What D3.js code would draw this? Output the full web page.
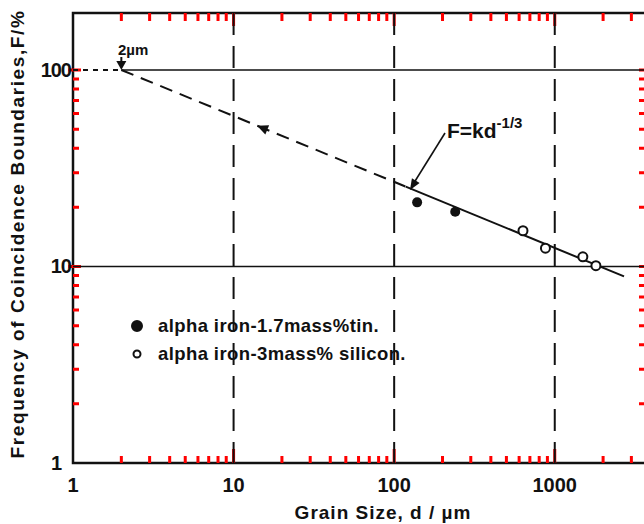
<!DOCTYPE html>
<html>
<head>
<meta charset="utf-8">
<script src="https://cdn.jsdelivr.net/npm/d3@7"></script>
<style>
  body { margin: 0; background: #fff; }
  svg { display: block; }
  text { font-family: "Liberation Sans", Arial, sans-serif; font-weight: bold; fill: #111; }
</style>
</head>
<body>
<svg></svg>
<script>
const WIDTH = 644;
const HEIGHT = 524;

// data
const tinD = [139, 240];
const tinF = [21.2, 19.0];
const siliconD = [634, 875, 1496, 1804];
const siliconF = [15.2, 12.4, 11.2, 10.1];

const fitDashedD = [2, 118];
const fitDashedF = [100, 25.5];
const fitSolidD = [118, 2700];
const fitSolidF = [25.5, 8.9];

const xTickLabels = [1, 10, 100, 1000];
const yTickLabels = [1, 10, 100];
const gridD = [10, 100, 1000];
const gridF = [10, 100];

const legendLabels = ["alpha iron-1.7mass%tin.", "alpha iron-3mass% silicon."];

const x = d3.scaleLog().domain([1, 3700]).range([73, 646]);
const y = d3.scaleLog().domain([1, 195]).range([463, 13]);

const $svg = d3.select("svg").attr("width", WIDTH).attr("height", HEIGHT);

const xTicks = x.ticks().filter(d => d > 1);
const yTicks = y.ticks().filter(d => d > 1);
const isMajor = d => Math.abs(Math.log10(d) - Math.round(Math.log10(d))) < 1e-9;

const plotTop = y.range()[1];
const plotBottom = y(1);
const plotLeft = x(1);
const plotRight = x.range()[1];

// frame
$svg.append("rect")
  .attr("x", plotLeft).attr("y", plotTop)
  .attr("width", plotRight - plotLeft)
  .attr("height", plotBottom - plotTop)
  .attr("fill", "none").attr("stroke", "#111").attr("stroke-width", 2.5);

// axis ticks as one path per side
function tickPath(data, seg) {
  return data.map(d => {
    const s = seg(d);
    return `M${s[0]},${s[1]}L${s[2]},${s[3]}`;
  }).join("");
}

const tickPaths = [
  tickPath(xTicks, d => [x(d), plotBottom, x(d), plotBottom - (isMajor(d) ? 14 : 7)]),
  tickPath(xTicks, d => [x(d), plotTop, x(d), plotTop + (isMajor(d) ? 13 : 8)]),
  tickPath(yTicks, d => [plotLeft - (isMajor(d) ? 5 : 0), y(d), plotLeft + (isMajor(d) ? 8 : 6), y(d)]),
  tickPath(yTicks, d => [plotRight - 2, y(d), plotRight - 7, y(d)])
];

$svg.append("g")
  .selectAll("path")
  .data(tickPaths)
  .enter()
  .append("path")
  .attr("d", d => d)
  .style("fill", "none")
  .style("stroke", "red")
  .style("stroke-width", "3px");

// horizontal grid
$svg.selectAll(".hgrid")
  .data(gridF)
  .enter()
  .append("line")
  .attr("x1", d => d === 100 ? x(2) : plotLeft)
  .attr("x2", plotRight)
  .attr("y1", d => y(d)).attr("y2", d => y(d))
  .attr("stroke", "#111").attr("stroke-width", 1.6);

$svg.append("line")
  .attr("x1", plotLeft).attr("x2", x(2))
  .attr("y1", y(100)).attr("y2", y(100))
  .attr("stroke", "#111").attr("stroke-width", 2)
  .attr("stroke-dasharray", "5,5");

// vertical dashed grid
$svg.selectAll(".vgrid")
  .data(gridD)
  .enter()
  .append("line")
  .attr("x1", d => x(d)).attr("x2", d => x(d))
  .attr("y1", plotTop).attr("y2", plotBottom)
  .attr("stroke", "#111").attr("stroke-width", 2)
  .attr("stroke-dasharray", "22,11");

// fit line
const lineGen = d3.line().x(d => x(d[0])).y(d => y(d[1]));

$svg.append("path")
  .attr("d", lineGen(d3.zip(fitDashedD, fitDashedF)))
  .attr("fill", "none").attr("stroke", "#111").attr("stroke-width", 2)
  .attr("stroke-dasharray", "13,8");

$svg.append("path")
  .attr("d", lineGen(d3.zip(fitSolidD, fitSolidF)))
  .attr("fill", "none").attr("stroke", "#111").attr("stroke-width", 2);

// small arrow on the dashed part
const aD = 14;
const slope = Math.log(fitDashedF[1] / fitDashedF[0]) / Math.log(fitDashedD[1] / fitDashedD[0]);
const aF = fitDashedF[0] * Math.pow(aD / fitDashedD[0], slope);
const ang = Math.atan2(y(fitDashedF[0]) - y(fitDashedF[1]), x(fitDashedD[0]) - x(fitDashedD[1]));
$svg.append("path")
  .attr("d", "M0,0 L-11,-5 L-11,5 Z")
  .attr("transform", `translate(${x(aD)},${y(aF)}) rotate(${ang * 180 / Math.PI})`)
  .attr("fill", "#111");

// points
$svg.selectAll(".tin")
  .data(d3.zip(tinD, tinF))
  .enter()
  .append("circle")
  .attr("cx", d => x(d[0])).attr("cy", d => y(d[1]))
  .attr("r", 5).attr("fill", "#111");

$svg.selectAll(".si")
  .data(d3.zip(siliconD, siliconF))
  .enter()
  .append("circle")
  .attr("cx", d => x(d[0])).attr("cy", d => y(d[1]))
  .attr("r", 4.5).attr("fill", "#fff").attr("stroke", "#111").attr("stroke-width", 2);

// tick labels
$svg.selectAll(".xlab")
  .data(xTickLabels)
  .enter()
  .append("text")
  .attr("x", d => x(d)).attr("y", 492)
  .attr("text-anchor", "middle")
  .attr("font-size", 20)
  .text(d => d);

$svg.selectAll(".ylab")
  .data(yTickLabels)
  .enter()
  .append("text")
  .attr("x", d => d === 1 ? 61 : 71).attr("y", d => y(d) + 7)
  .attr("text-anchor", "end")
  .attr("font-size", 20)
  .attr("letter-spacing", -1)
  .text(d => d);

// axis titles
$svg.append("text")
  .attr("x", 383).attr("y", 519)
  .attr("text-anchor", "middle")
  .attr("font-size", 19)
  .attr("letter-spacing", 1)
  .text("Grain Size, d / \u00b5m");

$svg.append("text")
  .attr("transform", "translate(24,234) rotate(-90)")
  .attr("text-anchor", "middle")
  .attr("font-size", 19)
  .attr("letter-spacing", 1.6)
  .text("Frequency of Coincidence Boundaries,F/%");

// 2um annotation
$svg.append("text")
  .attr("x", 118).attr("y", 55)
  .attr("font-size", 15)
  .text("2\u00b5m");
$svg.append("line")
  .attr("x1", x(2)).attr("x2", x(2))
  .attr("y1", 57).attr("y2", y(100) - 6)
  .attr("stroke", "#111").attr("stroke-width", 2);
$svg.append("path")
  .attr("d", `M${x(2)},${y(100)} l-5,-9 l10,0 Z`)
  .attr("fill", "#111");

// F = k d^-1/3 label
const eq = $svg.append("text").attr("x", 447).attr("y", 138).attr("font-size", 21).attr("font-weight", "normal");
eq.append("tspan").text("F=kd");
eq.append("tspan").attr("dy", -10).attr("font-size", 15).text("-1/3");

$svg.append("line")
  .attr("x1", 445).attr("y1", 133)
  .attr("x2", 412).attr("y2", 186)
  .attr("stroke", "#111").attr("stroke-width", 1.6);
$svg.append("path")
  .attr("d", "M0,0 L-11,-4.5 L-11,4.5 Z")
  .attr("transform", `translate(410,190) rotate(${Math.atan2(190 - 133, 410 - 445) * 180 / Math.PI})`)
  .attr("fill", "#111");

// legend
const legend = $svg.selectAll(".legend")
  .data(legendLabels)
  .enter()
  .append("g")
  .attr("transform", (d, i) => `translate(137,${326 + i * 28})`);

legend.append("circle")
  .attr("r", (d, i) => i === 0 ? 5 : 3.5)
  .attr("fill", (d, i) => i === 0 ? "#111" : "#fff")
  .attr("stroke", "#111").attr("stroke-width", 2);

legend.append("text")
  .attr("x", 21).attr("y", 6)
  .attr("font-size", 18.5)
  .attr("letter-spacing", 0.4)
  .text(d => d);
</script>
</body>
</html>
